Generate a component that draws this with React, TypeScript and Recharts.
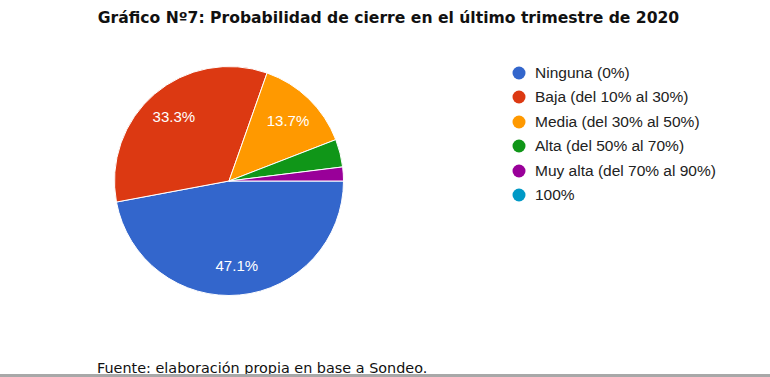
import React from "react";
import { PieChart, Pie, Cell } from "recharts";

const categories = [
  "Ninguna (0%)",
  "Baja (del 10% al 30%)",
  "Media (del 30% al 50%)",
  "Alta (del 50% al 70%)",
  "Muy alta (del 70% al 90%)",
  "100%",
];
const counts = [24, 17, 7, 2, 1, 0];
const colors = ["#3366CC", "#DC3912", "#FF9900", "#109618", "#990099", "#0099C6"];

const titleText = "Gráfico Nº7: Probabilidad de cierre en el último trimestre de 2020";
const sourceText = "Fuente: elaboración propia en base a Sondeo.";

const data = categories.map((name, i) => ({ name, value: counts[i] }));
const RAD = Math.PI / 180;

const renderLabel = (props: any) => {
  const { cx, cy, midAngle, outerRadius, percent } = props;
  if (percent < 0.05) return null;
  const r = outerRadius * 0.74;
  const x = cx + r * Math.cos(-midAngle * RAD);
  const y = cy + r * Math.sin(-midAngle * RAD);
  return (
    <text
      x={x}
      y={y}
      fill="#ffffff"
      textAnchor="middle"
      dominantBaseline="central"
      fontFamily="'Liberation Sans', Arial, sans-serif"
      fontSize={15}
    >
      {(percent * 100).toFixed(1) + "%"}
    </text>
  );
};

const LegendBlock = () => (
  <div style={{ position: "absolute", left: 512, top: 63 }}>
    {categories.map((c, i) => (
      <div
        key={c}
        style={{
          position: "absolute",
          left: 0,
          top: i * 24.4,
          height: 20,
          display: "flex",
          alignItems: "center",
          whiteSpace: "nowrap",
        }}
      >
        <svg width={14} height={14} style={{ marginRight: 9 }}>
          <circle cx={7} cy={7} r={6.5} fill={colors[i]} />
        </svg>
        <span
          style={{
            fontFamily: "'Liberation Sans', Arial, sans-serif",
            fontSize: 15.5,
            color: "#222222",
          }}
        >
          {c}
        </span>
      </div>
    ))}
  </div>
);

export default function App() {
  return (
    <div
      style={{
        position: "absolute",
        left: 0,
        top: 0,
        width: 770,
        height: 377,
        background: "#ffffff",
        overflow: "hidden",
      }}
    >
      <div
        style={{
          position: "absolute",
          left: 0,
          width: 777,
          top: 9,
          textAlign: "center",
          fontFamily: "'DejaVu Sans', Verdana, sans-serif",
          fontWeight: "bold",
          fontSize: 15.6,
          color: "#111111",
          whiteSpace: "nowrap",
        }}
      >
        {titleText}
      </div>
      <PieChart
        width={770}
        height={377}
        margin={{ top: 0, right: 0, bottom: 0, left: 0 }}
        style={{ position: "absolute", left: 0, top: 0 }}
      >
        <Pie
          data={data}
          dataKey="value"
          nameKey="name"
          cx={229}
          cy={181}
          outerRadius={114.5}
          startAngle={0}
          endAngle={-360}
          stroke="#ffffff"
          strokeWidth={1}
          label={renderLabel}
          labelLine={false}
          isAnimationActive={false}
        >
          {data.map((d, i) => (
            <Cell key={d.name} fill={colors[i]} />
          ))}
        </Pie>
      </PieChart>
      <LegendBlock />
      <div
        style={{
          position: "absolute",
          left: 97,
          top: 360,
          fontFamily: "'DejaVu Sans', Verdana, sans-serif",
          fontSize: 14.4,
          color: "#111111",
          whiteSpace: "nowrap",
        }}
      >
        {sourceText}
      </div>
      <div
        style={{
          position: "absolute",
          left: 0,
          top: 374,
          width: 770,
          height: 3,
          background: "#a8a8a8",
        }}
      />
    </div>
  );
}
